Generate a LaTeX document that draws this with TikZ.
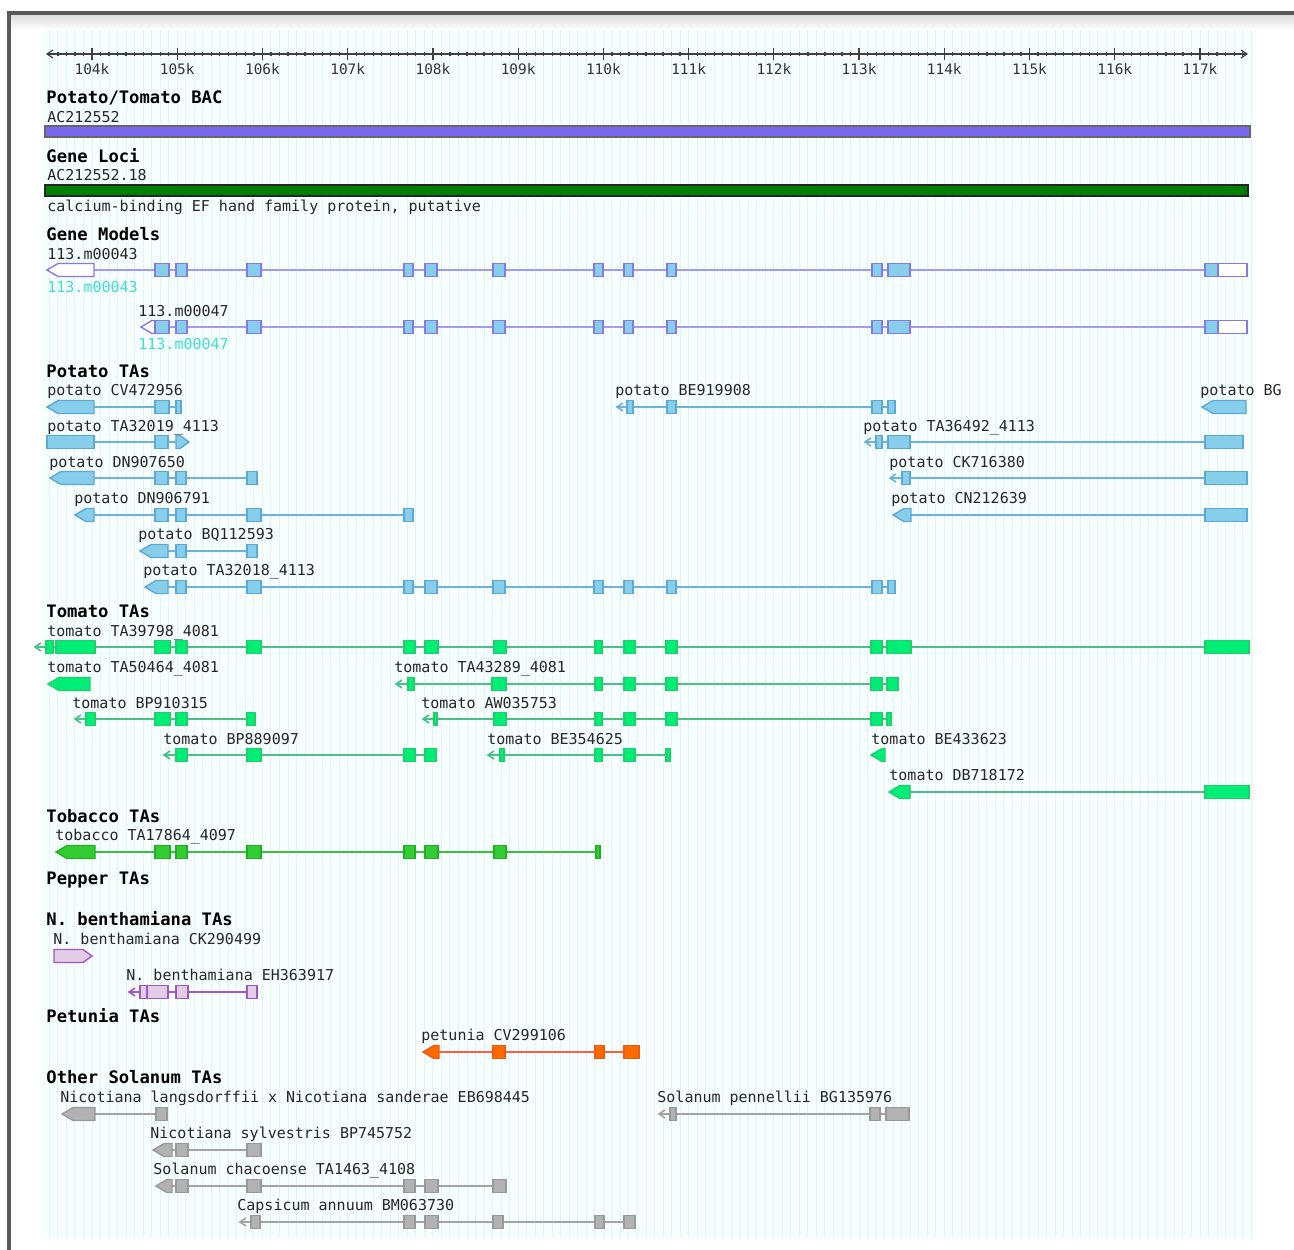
\documentclass[tikz,border=0pt]{standalone}
\usepackage{fontspec}
\newfontfamily\mono{DejaVu Sans Mono}
\definecolor{bgc}{HTML}{F7FEFE}
\definecolor{stripe}{HTML}{E3F4F9}
\definecolor{bacc}{HTML}{7B68EE}
\definecolor{locc}{HTML}{008000}
\definecolor{pfill}{HTML}{87CEEB}
\definecolor{pedge}{HTML}{5DA9D6}
\definecolor{pline}{HTML}{6CB2DA}
\definecolor{gmline}{HTML}{A599F4}
\definecolor{gmedge}{HTML}{8478EA}
\definecolor{tfill}{HTML}{00EE76}
\definecolor{tedge}{HTML}{1FCF6A}
\definecolor{tline}{HTML}{4CBF85}
\definecolor{tbfill}{HTML}{32CD32}
\definecolor{tbedge}{HTML}{22B022}
\definecolor{tbline}{HTML}{3CBF3C}
\definecolor{nfill}{HTML}{E2CCE6}
\definecolor{nedge}{HTML}{A055C8}
\definecolor{nline}{HTML}{A055C8}
\definecolor{petfill}{HTML}{FF6A00}
\definecolor{petedge}{HTML}{F05A10}
\definecolor{petline}{HTML}{FF5F3F}
\definecolor{ofill}{HTML}{B2B2B2}
\definecolor{oedge}{HTML}{999999}
\definecolor{oline}{HTML}{A3A3A3}
\definecolor{cyanlbl}{HTML}{40E0D0}
\tikzset{
  lbl/.style={anchor=base west,inner sep=0pt,font=\mono\fontsize{7.5}{8}\selectfont,text=black!85},
  hdr/.style={anchor=base west,inner sep=0pt,font=\mono\bfseries\fontsize{8.6}{9}\selectfont,text=black},
  rlab/.style={anchor=center,inner sep=0pt,font=\mono\fontsize{7.2}{8}\selectfont,text=black!80},
  rul/.style={draw=black!75,line width=0.6pt},
  gm/.style={fill=pfill,draw=gmedge},
  gmw/.style={fill=white,draw=gmedge},
  pot/.style={fill=pfill,draw=pedge},
  tom/.style={fill=tfill,draw=tedge},
  tob/.style={fill=tbfill,draw=tbedge},
  nb/.style={fill=nfill,draw=nedge},
  pet/.style={fill=petfill,draw=petedge},
  oth/.style={fill=ofill,draw=oedge}
}
\newcounter{nodec}
\newcommand\lab[4][]{\stepcounter{nodec}\node[lbl,#1] (t\arabic{nodec}) at (#2,{#3+5}) {#4};}
\newcommand\hd[3]{\stepcounter{nodec}\node[hdr] (h\arabic{nodec}) at (#1,{#2+6}) {#3};}
\newcommand\gln[4]{\draw[line width=0.9pt,#4] (#1,#3) -- (#2,#3);}
\newcommand\gex[4]{\filldraw[line width=0.7pt,#4] (#1,{#3-6.5}) rectangle (#2,{#3+6.5});}
\newcommand\gexs[3]{\foreach \xa/\xb in {#3}{\gex{\xa}{\xb}{#1}{#2}}}
\newcommand\garl[4]{\filldraw[line width=0.7pt,#4] (#1,#3) -- ({#1+11},{#3-6.5}) -- (#2,{#3-6.5}) -- (#2,{#3+6.5}) -- ({#1+11},{#3+6.5}) -- cycle;}
\newcommand\garr[4]{\filldraw[line width=0.7pt,#4] (#1,{#3-6.5}) -- ({#2-9},{#3-6.5}) -- (#2,#3) -- ({#2-9},{#3+6.5}) -- (#1,{#3+6.5}) -- cycle;}
\newcommand\gopen[3]{\draw[line width=0.8pt,#3] ({#1+6},{#2-4}) -- (#1,#2) -- ({#1+6},{#2+4});}
\begin{document}
\begin{tikzpicture}[x=0.5pt,y=-0.5pt]
\useasboundingbox (0,0) rectangle (1294,1249);
\clip (0,0) rectangle (1294,1249);
\fill[white] (0,0) rectangle (1294,1249);
% frame and backdrop
\shade[top color=black!14,bottom color=white] (10,14) rectangle (1294,30);
\fill[bgc] (42,30) rectangle (1252,1238);
\foreach \i in {-5,...,136}{\draw[stripe,line width=0.5pt] ({92+\i*8.523},30) -- ({92+\i*8.523},1238);}
\draw[line width=1.6pt,black!65] (9,1260) -- (9,13) -- (1300,13);
% ruler
\draw[rul] (47,54) -- (1247,54);
\draw[rul] (53,50) -- (47,54) -- (53,58);
\draw[rul] (1241,50) -- (1247,54) -- (1241,58);
\foreach \i in {-5,...,135}{\draw[rul] ({92+\i*8.523},52) -- ({92+\i*8.523},56);}
\foreach \k in {0,...,13}{
  \pgfmathsetmacro\xx{92+\k*85.23}
  \pgfmathtruncatemacro\kk{104+\k}
  \draw[rul] (\xx,48) -- (\xx,60);
  \node[rlab] (r\kk) at (\xx,69) {\kk k};
}
% BAC
\hd{46}{97}{Potato/Tomato BAC}
\lab{47}{117}{AC212552}
\filldraw[fill=bacc,draw=black!60,line width=0.6pt] (45,126) rectangle (1250,137);
% Gene loci
\hd{46}{156}{Gene Loci}
\lab{47}{175}{AC212552.18}
\filldraw[fill=locc,draw=black!85,line width=0.6pt] (45,185) rectangle (1248,196);
\lab{47}{206}{calcium-binding EF hand family protein, putative}
% Gene models
\hd{46}{234}{Gene Models}
\lab{47}{254}{113.m00043}
\gln{94}{1218}{270}{gmline}
\garl{47}{94}{270}{gmw}
\gexs{270}{gm}{155/169,176/187,247/261,404/413,425/437,493/505,594/603,624/633,667/676,872/882,888/910,1205/1218}
\gex{1218}{1247}{270}{gmw}
\lab[text=cyanlbl]{47}{287}{113.m00043}
\lab{138}{311}{113.m00047}
\gln{155}{1218}{327}{gmline}
\garl{141}{157}{327}{gmw}
\gexs{327}{gm}{155/169,176/187,247/261,404/413,425/437,493/505,594/603,624/633,667/676,872/882,888/910,1205/1218}
\gex{1218}{1247}{327}{gmw}
\lab[text=cyanlbl]{138}{344}{113.m00047}
% Potato TAs
\hd{46}{371}{Potato TAs}
\lab{47}{390}{potato CV472956}
\gln{94}{176}{407}{pline}
\garl{47}{94}{407}{pot}
\gexs{407}{pot}{155/169,176/181}
\lab{615}{390}{potato BE919908}
\gln{617}{893}{407}{pline}
\gopen{617}{407}{pline}
\gexs{407}{pot}{627/633,667/676,872/882,888/895}
\lab{1200}{390}{potato BG}
\garl{1202}{1246}{407}{pot}
\lab{47}{426}{potato TA32019\_4113}
\gln{94}{176}{442}{pline}
\gex{47}{94}{442}{pot}
\gex{155}{168}{442}{pot}
\garr{176}{189}{442}{pot}
\lab{863}{426}{potato TA36492\_4113}
\gln{865}{1205}{442}{pline}
\gopen{865}{442}{pline}
\gexs{442}{pot}{876/882,888/910,1205/1243}
\lab{49}{462}{potato DN907650}
\gln{94}{257}{478}{pline}
\garl{50}{94}{478}{pot}
\gexs{478}{pot}{155/168,176/186,247/257}
\lab{889}{462}{potato CK716380}
\gln{890}{1205}{478}{pline}
\gopen{890}{478}{pline}
\gexs{478}{pot}{902/910,1205/1247}
\lab{74}{498}{potato DN906791}
\gln{94}{413}{515}{pline}
\garl{75}{94}{515}{pot}
\gexs{515}{pot}{155/168,176/186,247/261,404/413}
\lab{891}{498}{potato CN212639}
\gln{911}{1205}{515}{pline}
\garl{893}{911}{515}{pot}
\gex{1205}{1247}{515}{pot}
\lab{138}{534}{potato BQ112593}
\gln{168}{257}{551}{pline}
\garl{140}{168}{551}{pot}
\gexs{551}{pot}{176/186,247/257}
\lab{143}{570}{potato TA32018\_4113}
\gln{168}{895}{587}{pline}
\garl{145}{168}{587}{pot}
\gexs{587}{pot}{176/186,247/261,404/413,425/437,493/505,594/603,624/633,667/676,872/882,888/895}
% Tomato TAs
\hd{46}{611}{Tomato TAs}
\lab{47}{631}{tomato TA39798\_4081}
\gln{35}{1205}{647}{tline}
\gopen{35}{647}{tline}
\gexs{647}{tom}{46/53,56/95,155/170,176/187,247/261,404/415,425/438,494/506,595/602,624/635,666/677,871/882,887/911,1205/1249}
\lab{47}{667}{tomato TA50464\_4081}
\garl{48}{90}{684}{tom}
\lab{394}{667}{tomato TA43289\_4081}
\gln{396}{898}{684}{tline}
\gopen{396}{684}{tline}
\gexs{684}{tom}{408/414,492/506,595/602,624/635,666/677,871/882,887/898}
\lab{72}{703}{tomato BP910315}
\gln{75}{255}{719}{tline}
\gopen{75}{719}{tline}
\gexs{719}{tom}{86/95,155/170,176/187,247/255}
\lab{421}{703}{tomato AW035753}
\gln{423}{891}{719}{tline}
\gopen{423}{719}{tline}
\gexs{719}{tom}{434/437,494/506,595/602,624/635,666/677,871/882,887/891}
\lab{163}{739}{tomato BP889097}
\gln{164}{436}{755}{tline}
\gopen{164}{755}{tline}
\gexs{755}{tom}{176/187,247/261,404/415,425/436}
\lab{487}{739}{tomato BE354625}
\gln{488}{670}{755}{tline}
\gopen{488}{755}{tline}
\gexs{755}{tom}{500/504,595/602,624/635,666/670}
\lab{871}{739}{tomato BE433623}
\garl{871}{885}{755}{tom}
\lab{889}{775}{tomato DB718172}
\gln{910}{1205}{792}{tline}
\garl{889}{910}{792}{tom}
\gex{1205}{1249}{792}{tom}
% Tobacco
\hd{46}{816}{Tobacco TAs}
\lab{55}{835}{tobacco TA17864\_4097}
\gln{95}{600}{852}{tbline}
\garl{56}{95}{852}{tob}
\gexs{852}{tob}{155/170,176/187,247/261,404/415,425/438,494/506,596/600}
% Pepper
\hd{46}{878}{Pepper TAs}
% N. benthamiana
\hd{46}{919}{N. benthamiana TAs}
\lab{53}{939}{N. benthamiana CK290499}
\garr{54}{92}{956}{nb}
\lab{126}{975}{N. benthamiana EH363917}
\gln{129}{257}{992}{nline}
\gopen{129}{992}{nline}
\gexs{992}{nb}{140/168,176/188,247/257}
\draw[line width=0.7pt,nedge] (147,985.5) -- (147,998.5);
% Petunia
\hd{46}{1016}{Petunia TAs}
\lab{421}{1035}{petunia CV299106}
\gln{439}{624}{1052}{petline}
\garl{423}{439}{1052}{pet}
\gexs{1052}{pet}{493/505,595/604,624/639}
% Other Solanum
\hd{46}{1077}{Other Solanum TAs}
\lab{60}{1097}{Nicotiana langsdorffii x Nicotiana sanderae EB698445}
\gln{95}{156}{1114}{oline}
\garl{62}{95}{1114}{oth}
\gex{156}{167}{1114}{oth}
\lab{657}{1097}{Solanum pennellii BG135976}
\gln{659}{886}{1114}{oline}
\gopen{659}{1114}{oline}
\gexs{1114}{oth}{670/676,870/880,886/909}
\lab{150}{1133}{Nicotiana sylvestris BP745752}
\gln{170}{261}{1150}{oline}
\garl{153}{172}{1150}{oth}
\gexs{1150}{oth}{176/188,247/261}
\lab{153}{1169}{Solanum chacoense TA1463\_4108}
\gln{172}{506}{1186}{oline}
\garl{156}{172}{1186}{oth}
\gexs{1186}{oth}{176/188,247/261,404/415,425/438,493/506}
\lab{237}{1205}{Capsicum annuum BM063730}
\gln{240}{635}{1222}{oline}
\gopen{240}{1222}{oline}
\gexs{1222}{oth}{251/260,404/415,425/438,493/503,595/604,624/635}
\end{tikzpicture}
\end{document}
